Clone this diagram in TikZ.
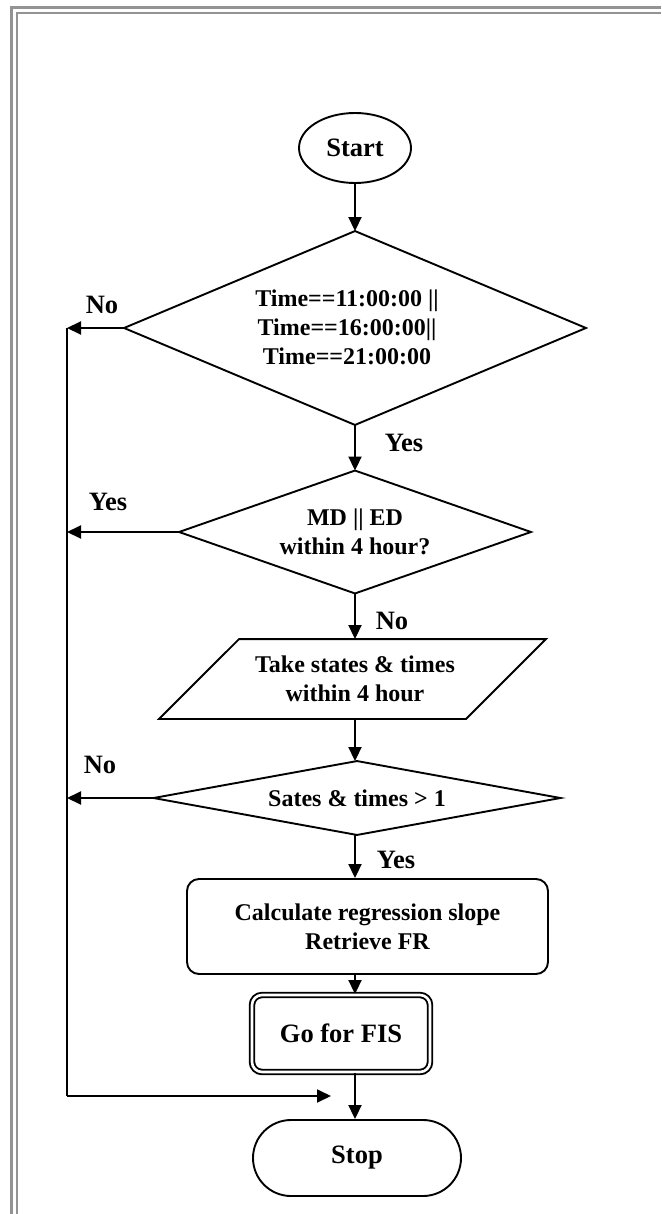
\documentclass[tikz,border=0pt]{standalone}
\usepackage{fontspec}
\setmainfont{Liberation Serif}
\usetikzlibrary{shapes.geometric,shapes.misc,arrows.meta}
\begin{document}
\begin{tikzpicture}[x=1pt,y=-1pt, line width=1.9pt,
  >={Triangle[length=14pt,width=13pt]},
  every node/.style={font=\bfseries\fontsize{24}{29}\selectfont, inner sep=0pt, align=center},
  big/.style={font=\bfseries\fontsize{26.5}{30}\selectfont},
  frameline/.style={draw=gray!85, line width=2.2pt},
  proc/.style={draw, rounded corners=12pt},
  lbl/.style={big}]
\useasboundingbox (0,0) rectangle (661,1214);
% frame
\draw[frameline] (11.5,1214) -- (11.5,7.5) -- (661,7.5);
\draw[frameline] (17,1214) -- (17,13) -- (661,13);
% nodes
\node[ellipse, draw, big, minimum width=112pt, minimum height=70pt] (start) at (355,148) {Start};
\node[minimum width=460pt, minimum height=192pt] (d1) at (355,328) {};
\draw (d1.north) -- (d1.east) -- (d1.south) -- (d1.west) -- cycle;
\node (d1t) at (347,327) {Time==11:00:00 ||\\Time==16:00:00||\\Time==21:00:00};
\node[minimum width=350pt, minimum height=121pt] (d2) at (355,532)
  {MD || ED\\within 4 hour?};
\draw (d2.north) -- (d2.east) -- (d2.south) -- (d2.west) -- cycle;
\node[minimum width=385pt, minimum height=78pt] (para) at (352.5,679) {};
\draw ([xshift=80pt]para.north west) -- (para.north east) -- ([xshift=-80pt]para.south east) -- (para.south west) -- cycle;
\node (parat) at (355,679) {Take states \& times\\within 4 hour};
\node[minimum width=405pt, minimum height=72pt] (d3) at (357,798)
  {Sates \& times > 1};
\draw (d3.north) -- (d3.east) -- (d3.south) -- (d3.west) -- cycle;
\node[proc, minimum width=361pt, minimum height=95pt] (calc) at (367.5,926.5)
  {Calculate regression slope\\Retrieve FR};
\node[draw, double, double distance=2.6pt, rounded corners=10pt, big, minimum width=178pt, minimum height=77pt] (fis) at (341,1033.5) {Go for FIS};
\node[rounded rectangle, draw, big, minimum width=208pt, minimum height=76pt] (stop) at (357,1158) {Stop};
% labels
\node[lbl] (no1) at (102,305) {No};
\node[lbl] (yes1) at (404,443) {Yes};
\node[lbl] (yes2) at (108,502) {Yes};
\node[lbl] (no2) at (392,621) {No};
\node[lbl] (no3) at (100,765) {No};
\node[lbl] (yes3) at (396,860) {Yes};
% side rail coordinates
\coordinate (r1) at (67,328);
\coordinate (r2) at (67,532);
\coordinate (r3) at (67,798);
\coordinate (rb) at (67,1096);
\coordinate (tip) at (331,1096);
\coordinate (sp) at (355,0);
% connectors
\draw[->] (start.south -| sp) -- (d1.north -| sp);
\draw[->] (d1.south -| sp) -- (d2.north -| sp);
\draw[->] (d2.south -| sp) -- (para.north -| sp);
\draw[->] (para.south -| sp) -- (d3.north -| sp);
\draw[->] (d3.south -| sp) -- (calc.north -| sp);
\draw[->] (calc.south -| sp) -- (fis.north -| sp);
\draw[->] (fis.south -| sp) -- (stop.north -| sp);
\draw[->] (d1.west) -- (r1);
\draw[->] (d2.west) -- (r2);
\draw[->] (d3.west) -- (r3);
\draw (r1) -- (rb);
\draw[->] (rb) -- (tip);
\end{tikzpicture}
\end{document}
